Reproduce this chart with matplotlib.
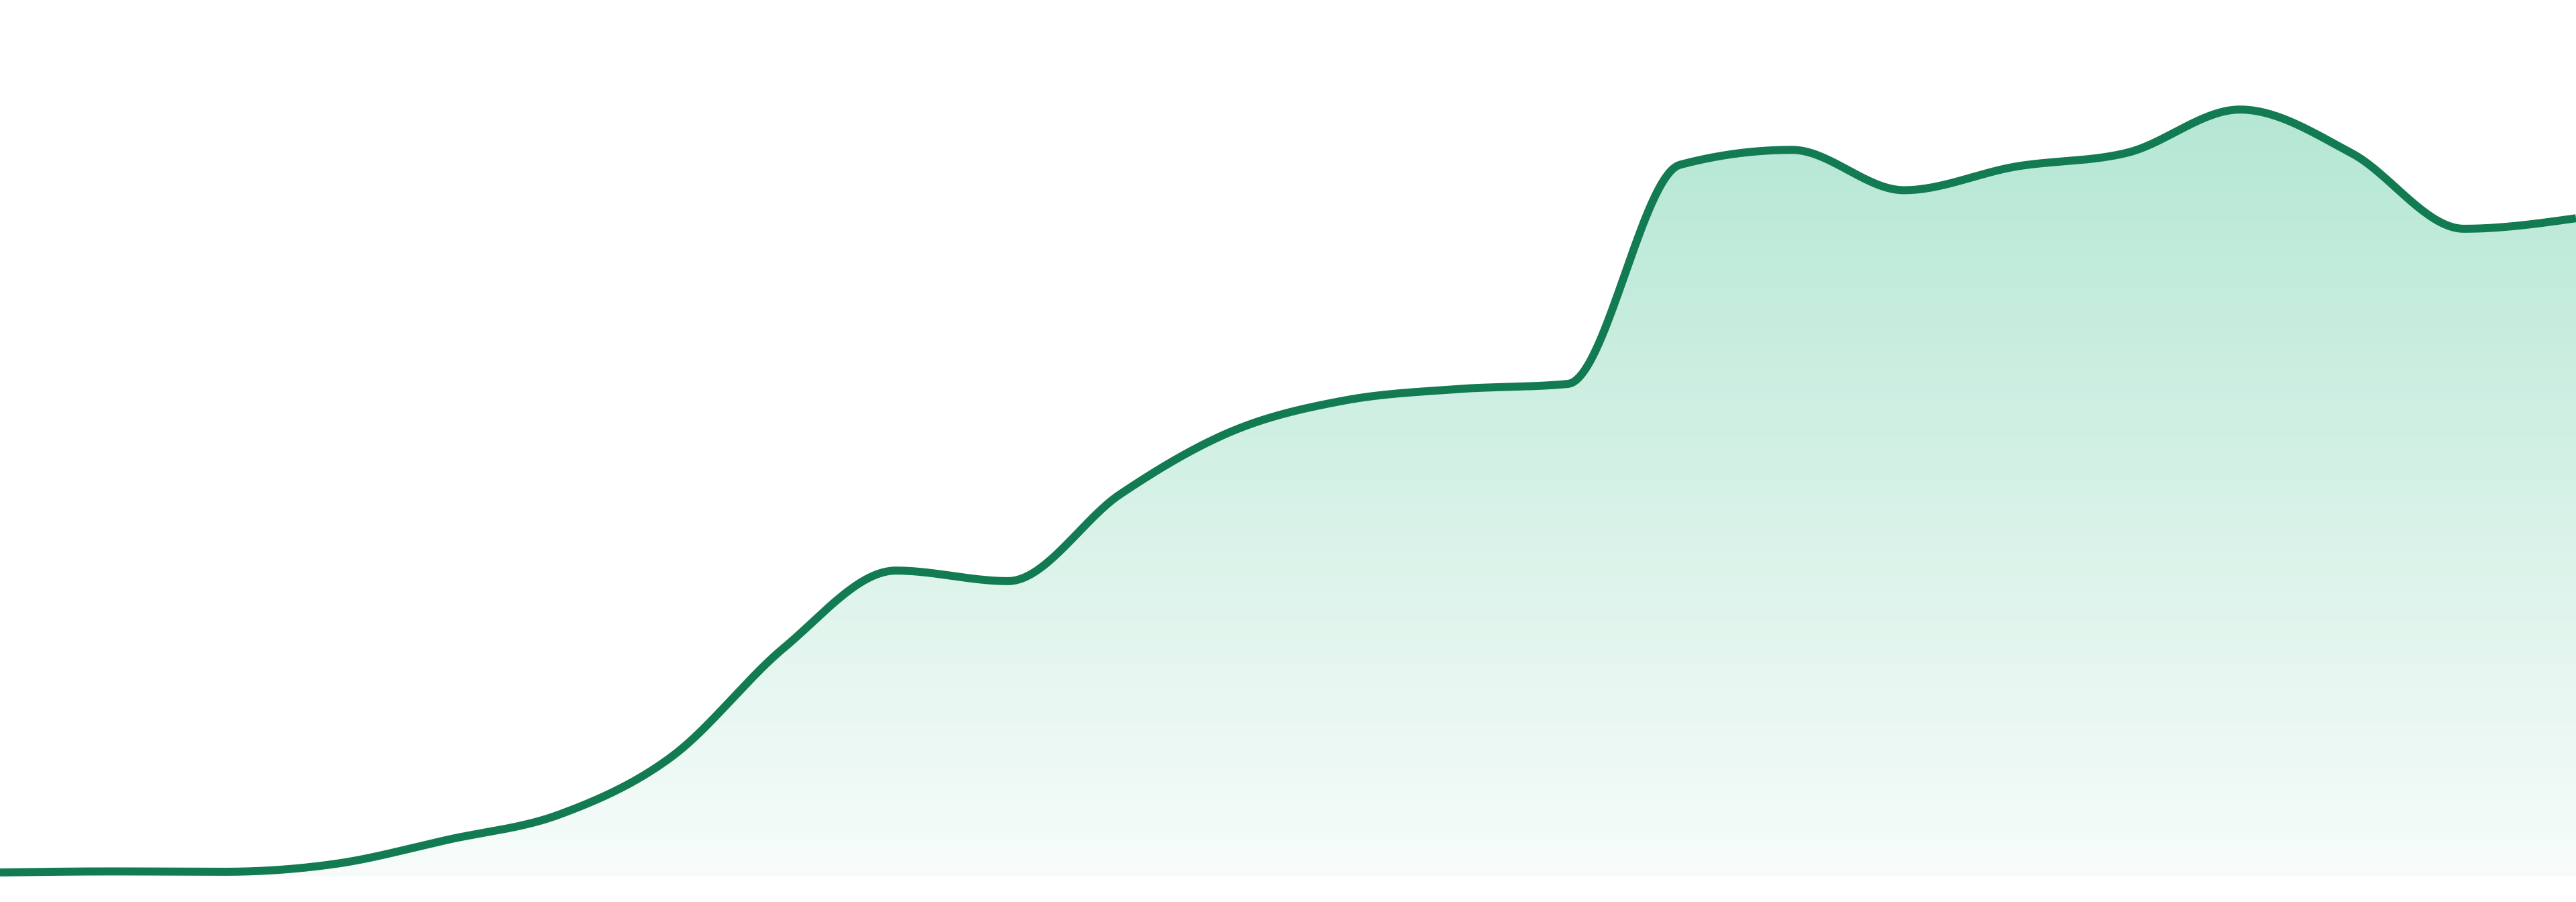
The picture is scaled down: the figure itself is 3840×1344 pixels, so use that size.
import numpy as np
import matplotlib
matplotlib.use("Agg")
import matplotlib.pyplot as plt
from matplotlib.colors import LinearSegmentedColormap
from matplotlib.patches import Polygon

# Data (arbitrary units)
periods = list(range(24))
values = [0.46, 0.58, 0.54, 1.45, 4.2, 7.1, 13.7, 26.1, 34.9, 33.7, 43.6, 50.8,
          54.3, 55.6, 56.2, 81.2, 82.9, 78.3, 81.0, 82.6, 87.5, 82.5, 73.9, 75.1]

LINE = "#127b52"
TOP = "#b5e7d4"
BOTTOM = "#f7fcfa"


def monotone_x(x, y, n=40):
    x = np.asarray(x, float)
    y = np.asarray(y, float)
    h = np.diff(x)
    s = np.diff(y) / h
    m = len(x)
    t = np.zeros(m)
    for i in range(1, m - 1):
        s0, s1, h0, h1 = s[i - 1], s[i], h[i - 1], h[i]
        p = (s0 * h1 + s1 * h0) / (h0 + h1)
        t[i] = (np.sign(s0) + np.sign(s1)) * min(abs(s0), abs(s1), 0.5 * abs(p))
    t[0] = (3 * s[0] - t[1]) / 2
    t[-1] = (3 * s[-1] - t[-2]) / 2
    xs, ys = [], []
    for i in range(m - 1):
        u = np.linspace(0, 1, n, endpoint=False)
        dx = h[i] / 3
        p0 = (x[i], y[i])
        p1 = (x[i] + dx, y[i] + dx * t[i])
        p2 = (x[i + 1] - dx, y[i + 1] - dx * t[i + 1])
        p3 = (x[i + 1], y[i + 1])
        b = [(1 - u) ** 3, 3 * (1 - u) ** 2 * u, 3 * (1 - u) * u ** 2, u ** 3]
        xs.append(b[0] * p0[0] + b[1] * p1[0] + b[2] * p2[0] + b[3] * p3[0])
        ys.append(b[0] * p0[1] + b[1] * p1[1] + b[2] * p2[1] + b[3] * p3[1])
    xs.append([x[-1]])
    ys.append([y[-1]])
    return np.concatenate(xs), np.concatenate(ys)


fig = plt.figure(figsize=(19.2, 6.72), dpi=200)
ax = fig.add_axes([0, 0, 1, 1])
ax.set_axis_off()
ymin, ymax = -2.91, 100
ax.set_xlim(0, len(values) - 1)
ax.set_ylim(ymin, ymax)

sx, sy = monotone_x(periods, values)
base = 0.0
top = max(values)

cmap = LinearSegmentedColormap.from_list("g", [BOTTOM, TOP])
grad = np.linspace(0, 1, 512).reshape(-1, 1)
im = ax.imshow(grad, aspect="auto", cmap=cmap, origin="lower",
               extent=[0, len(values) - 1, base, top], zorder=1,
               interpolation="bicubic")
poly = Polygon(np.column_stack([np.r_[sx, sx[-1], sx[0]], np.r_[sy, base, base]]),
               closed=True, facecolor="none", edgecolor="none")
ax.add_patch(poly)
im.set_clip_path(poly)

ax.plot(sx, sy, color=LINE, lw=4.3, solid_capstyle="butt",
        solid_joinstyle="round", zorder=3)

fig.savefig("out.png", dpi=200, facecolor="white")
